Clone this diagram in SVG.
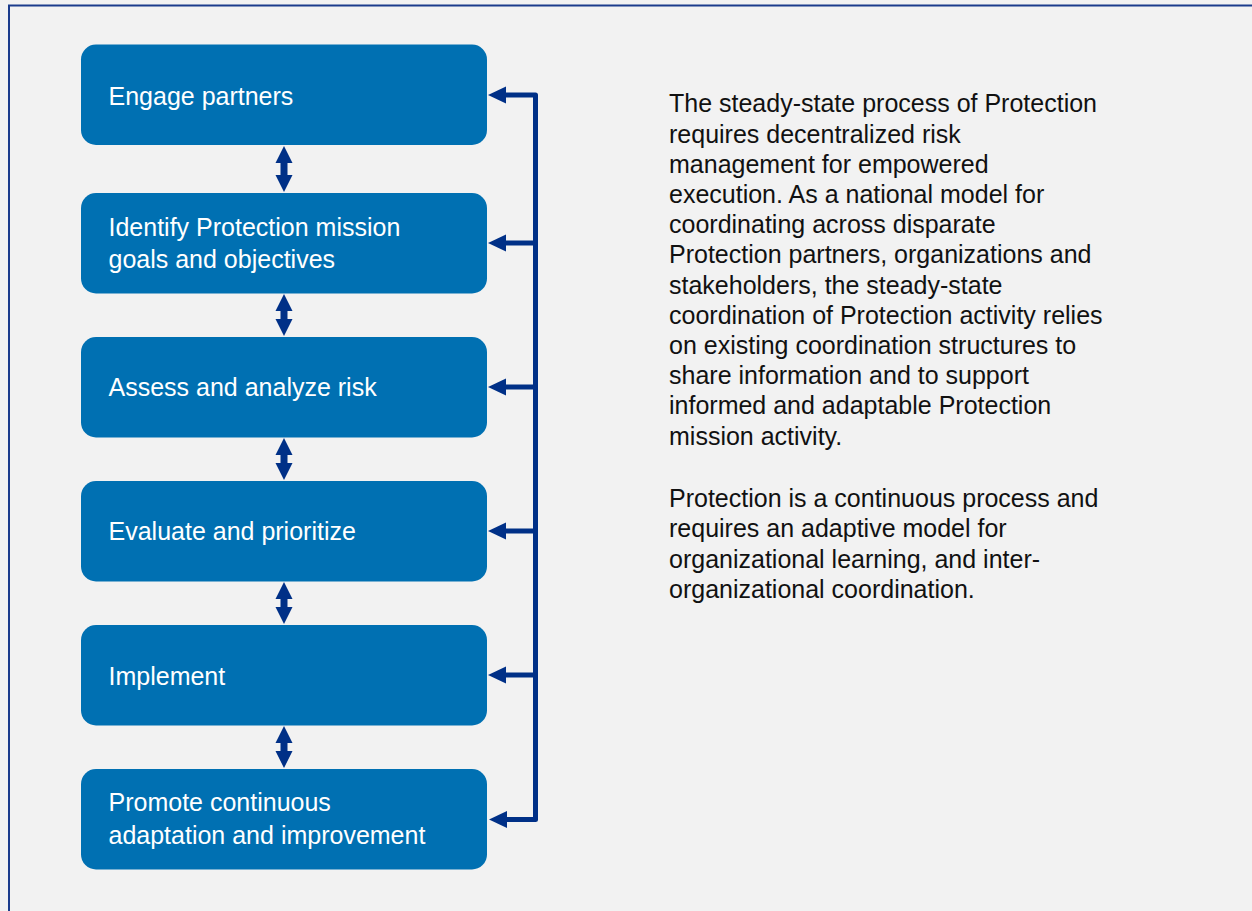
<svg xmlns="http://www.w3.org/2000/svg" width="1252" height="911" viewBox="0 0 1252 911">
<style>
.box{fill:#0070B2;}
.lbl{font-family:"Liberation Sans",Arial,sans-serif;font-size:25px;fill:#ffffff;}
.body{font-family:"Liberation Sans",Arial,sans-serif;font-size:25px;fill:#111111;}
.conn{fill:none;stroke:#003087;stroke-width:5;stroke-linejoin:round;}
.head{fill:#003087;}
</style>
<rect x="0" y="0" width="1252" height="911" fill="#F2F2F2"/>
<path d="M9,911 V5.5 H1252" fill="none" stroke="#1B3C8C" stroke-width="2"/>

<g id="node-engage">
<rect class="box" x="81" y="44.5" width="406" height="100.5" rx="15"/>
<text class="lbl" x="108.5" y="105">Engage partners</text>
</g>
<g id="node-identify">
<rect class="box" x="81" y="193" width="406" height="100.5" rx="15"/>
<text class="lbl" x="108.5" y="235.5">Identify Protection mission</text>
<text class="lbl" x="108.5" y="268">goals and objectives</text>
</g>
<g id="node-assess">
<rect class="box" x="81" y="337" width="406" height="100.5" rx="15"/>
<text class="lbl" x="108.5" y="396">Assess and analyze risk</text>
</g>
<g id="node-evaluate">
<rect class="box" x="81" y="481" width="406" height="100.5" rx="15"/>
<text class="lbl" x="108.5" y="540">Evaluate and prioritize</text>
</g>
<g id="node-implement">
<rect class="box" x="81" y="625" width="406" height="100.5" rx="15"/>
<text class="lbl" x="108.5" y="685">Implement</text>
</g>
<g id="node-promote">
<rect class="box" x="81" y="769" width="406" height="100.5" rx="15"/>
<text class="lbl" x="108.5" y="811">Promote continuous</text>
<text class="lbl" x="108.5" y="844">adaptation and improvement</text>
</g>

<g id="connectors">
<!-- feedback bus -->
<path class="conn" d="M505,95 H535.5 V819.5 H507"/>
<path class="conn" d="M505,243 H535.5"/>
<path class="conn" d="M505,387 H535.5"/>
<path class="conn" d="M505,531 H535.5"/>
<path class="conn" d="M505,675 H535.5"/>
<polygon class="head" points="488,95 506,86.5 506,103.5"/>
<polygon class="head" points="488,243 506,234.5 506,251.5"/>
<polygon class="head" points="488,387 506,378.5 506,395.5"/>
<polygon class="head" points="488,531 506,522.5 506,539.5"/>
<polygon class="head" points="488,675 506,666.5 506,683.5"/>
<polygon class="head" points="489,819.5 507,811 507,828"/>
<!-- double arrows between steps -->
<polygon class="head" points="284,146 292.5,163 287.5,163 287.5,175 292.5,175 284,192 275.5,175 280.5,175 280.5,163 275.5,163"/>
<polygon class="head" points="284,294 292.5,311 287.5,311 287.5,319 292.5,319 284,336 275.5,319 280.5,319 280.5,311 275.5,311"/>
<polygon class="head" points="284,438 292.5,455 287.5,455 287.5,463 292.5,463 284,480 275.5,463 280.5,463 280.5,455 275.5,455"/>
<polygon class="head" points="284,582 292.5,599 287.5,599 287.5,607 292.5,607 284,624 275.5,607 280.5,607 280.5,599 275.5,599"/>
<polygon class="head" points="284,726 292.5,743 287.5,743 287.5,751 292.5,751 284,768 275.5,751 280.5,751 280.5,743 275.5,743"/>
</g>

<g id="description">
<text class="body" x="669" y="112.3">The steady-state process of Protection</text>
<text class="body" x="669" y="142.5">requires decentralized risk</text>
<text class="body" x="669" y="172.7">management for empowered</text>
<text class="body" x="669" y="202.9">execution. As a national model for</text>
<text class="body" x="669" y="233.1">coordinating across disparate</text>
<text class="body" x="669" y="263.3">Protection partners, organizations and</text>
<text class="body" x="669" y="293.5">stakeholders, the steady-state</text>
<text class="body" x="669" y="323.7">coordination of Protection activity relies</text>
<text class="body" x="669" y="353.9">on existing coordination structures to</text>
<text class="body" x="669" y="384.1">share information and to support</text>
<text class="body" x="669" y="414.3">informed and adaptable Protection</text>
<text class="body" x="669" y="444.5">mission activity.</text>
<text class="body" x="669" y="506.7">Protection is a continuous process and</text>
<text class="body" x="669" y="537.2">requires an adaptive model for</text>
<text class="body" x="669" y="567.7">organizational learning, and inter-</text>
<text class="body" x="669" y="598.2">organizational coordination.</text>
</g>
</svg>
